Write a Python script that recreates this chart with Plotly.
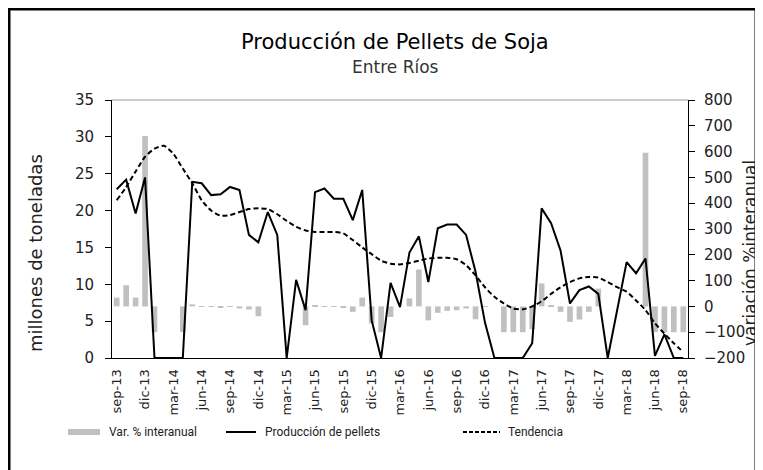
import plotly.graph_objects as go

meses = ["sep-13","oct-13","nov-13","dic-13","ene-14","feb-14","mar-14","abr-14","may-14","jun-14","jul-14","ago-14",
         "sep-14","oct-14","nov-14","dic-14","ene-15","feb-15","mar-15","abr-15","may-15","jun-15","jul-15","ago-15",
         "sep-15","oct-15","nov-15","dic-15","ene-16","feb-16","mar-16","abr-16","may-16","jun-16","jul-16","ago-16",
         "sep-16","oct-16","nov-16","dic-16","ene-17","feb-17","mar-17","abr-17","may-17","jun-17","jul-17","ago-17",
         "sep-17","oct-17","nov-17","dic-17","ene-18","feb-18","mar-18","abr-18","may-18","jun-18","jul-18","ago-18",
         "sep-18"]

produccion = [22.9, 24.2, 19.6, 24.5, 0, 0, 0, 0, 23.9, 23.7, 22.1, 22.2,
              23.2, 22.8, 16.7, 15.7, 19.8, 16.7, 0, 10.6, 6.5, 22.5, 23.0, 21.6,
              21.6, 18.7, 22.8, 5.1, 0, 10.2, 6.9, 14.3, 16.5, 10.3, 17.6, 18.1,
              18.1, 16.7, 11.7, 4.8, 0, 0, 0, 0, 2.0, 20.3, 18.3, 14.6,
              7.4, 9.2, 9.7, 8.7, 0, 6.5, 13.0, 11.5, 13.5, 0.3, 3.2, 0,
              0]

tendencia = [21.4, 23.2, 25.3, 27.3, 28.4, 28.8, 27.7, 25.7, 23.7, 21.4, 20.0, 19.3,
             19.4, 19.8, 20.2, 20.3, 20.2, 19.5, 18.6, 17.8, 17.3, 17.1, 17.1, 17.1,
             16.9, 16.0, 15.0, 14.1, 13.2, 12.8, 12.7, 12.9, 13.2, 13.5, 13.6, 13.6,
             13.4, 12.6, 11.2, 9.6, 8.3, 7.4, 6.7, 6.6, 7.0, 7.7, 8.7, 9.6,
             10.3, 10.8, 11.0, 10.9, 10.3, 9.6, 9.0, 7.8, 6.5, 4.7, 3.3, 2.0,
             0.8]

var_interanual = [34, 82, 34, 660, -100, None, None, -100, 8, -1, -2, -4,
                  1, -8, -12, -38, None, None, None, None, -73, 2, -1, -2,
                  -5, -21, 34, -66, -100, -41, None, 31, 143, -54, -25, -17,
                  -15, -8, -50, -2, None, -100, -100, -100, -88, 89, 3, -21,
                  -60, -51, -21, 69, None, None, None, None, 596, -100, -100, -100,
                  -100]

etiquetas = meses[::3]

FONT = "DejaVu Sans"
TITLE_FONT = "DejaVu Sans"
LEG_FONT = "Roboto"
GRAY = "#c0c0c0"

fig = go.Figure()

fig.add_trace(go.Bar(x=meses, y=var_interanual, xaxis="x", yaxis="y",
                     marker=dict(color=GRAY, line=dict(width=0)), showlegend=False))
fig.add_trace(go.Scatter(x=meses, y=produccion, xaxis="x", yaxis="y2", mode="lines",
                         line=dict(color="black", width=2), showlegend=False))
fig.add_trace(go.Scatter(x=meses, y=tendencia, xaxis="x", yaxis="y2", mode="lines",
                         line=dict(color="black", width=2, dash="5px,3px", shape="spline", smoothing=0.6),
                         showlegend=False))

tickfont = dict(family=FONT, size=15, color="#222")

# page has an 8px body margin: figure pixel = page pixel - 8
OFF = 8
W, H = 763 - OFF, 470 - OFF
PL, PR, PT, PB = 112, 688, 100, 358   # plot area in page pixels

fig.update_layout(
    width=W, height=H,
    margin=dict(l=PL - OFF, r=W - (PR - OFF), t=PT - OFF, b=H - (PB - OFF)),
    paper_bgcolor="white", plot_bgcolor="white",
    bargap=0.4,
    xaxis=dict(type="category", categoryorder="array", categoryarray=meses,
               range=[-0.5, len(meses) - 0.5],
               tickmode="array", tickvals=etiquetas, ticktext=etiquetas,
               tickangle=-90, ticks="outside", ticklen=5, tickcolor="rgba(0,0,0,0)",
               tickfont=dict(family=FONT, size=13, color="#222"),
               showline=True, linecolor="black", linewidth=1,
               showgrid=False, zeroline=False, fixedrange=True),
    xaxis2=dict(overlaying="x", anchor="y", side="bottom", type="linear",
                range=[-0.5, len(meses) - 0.5],
                tickmode="array", tickvals=[i - 0.5 for i in range(0, len(meses), 3)],
                ticks="outside", ticklen=6, tickcolor="black", showticklabels=False,
                showline=False, showgrid=False, zeroline=False),
    yaxis=dict(side="right", range=[-200, 800], dtick=100, tickmode="linear", tick0=-200,
               ticks="outside", ticklen=6, tickcolor="black",
               showline=True, linecolor="black", linewidth=1,
               showgrid=False, zeroline=False, tickfont=tickfont, ticklabelstandoff=6),
    yaxis2=dict(side="left", overlaying="y", anchor="x", range=[0, 35], dtick=5, tickmode="linear", tick0=0,
                ticks="outside", ticklen=6, tickcolor="black",
                showline=True, linecolor="black", linewidth=1,
                showgrid=False, zeroline=False, tickfont=tickfont, ticklabelstandoff=8),
)

def px_x(p):
    return (p - PL) / float(PR - PL)

def px_y(p):
    return (PB - p) / float(PB - PT)

shapes = []
shapes.append(dict(type="line", xref="paper", yref="paper", x0=0, x1=1, y0=1, y1=1,
                   line=dict(color="#999999", width=1)))
shapes.append(dict(type="rect", xref="paper", yref="paper",
                   x0=px_x(9), x1=px_x(756), y0=px_y(9), y1=px_y(490),
                   line=dict(color="black", width=3), fillcolor="rgba(0,0,0,0)"))
shapes.append(dict(type="rect", xref="paper", yref="paper",
                   x0=px_x(68), x1=px_x(100), y0=px_y(429), y1=px_y(435),
                   line=dict(width=0), fillcolor=GRAY))
shapes.append(dict(type="line", xref="paper", yref="paper",
                   x0=px_x(226), x1=px_x(256), y0=px_y(432), y1=px_y(432),
                   line=dict(color="black", width=2)))
shapes.append(dict(type="line", xref="paper", yref="paper",
                   x0=px_x(463), x1=px_x(500), y0=px_y(432), y1=px_y(432),
                   line=dict(color="black", width=2, dash="4px,2px")))

annotations = [
    dict(text="Producción de Pellets de Soja", x=px_x(395), y=px_y(42), xref="paper", yref="paper",
         showarrow=False, font=dict(family=TITLE_FONT, size=21, color="black"), xanchor="center", yanchor="middle"),
    dict(text="Entre Ríos", x=px_x(395), y=px_y(67), xref="paper", yref="paper",
         showarrow=False, font=dict(family=TITLE_FONT, size=17, color="#333"), xanchor="center", yanchor="middle"),
    dict(text="millones de toneladas", x=px_x(36), y=px_y(253), xref="paper", yref="paper", textangle=-90,
         showarrow=False, font=dict(family=FONT, size=18, color="#222"), xanchor="center", yanchor="middle"),
    dict(text="variación %interanual", x=px_x(750), y=px_y(253), xref="paper", yref="paper", textangle=-90,
         showarrow=False, font=dict(family=FONT, size=17, color="#222"), xanchor="center", yanchor="middle"),
    dict(text="Var. % interanual", x=px_x(107), y=px_y(432), xref="paper", yref="paper",
         showarrow=False, font=dict(family=LEG_FONT, size=12, color="#222"), xanchor="left", yanchor="middle"),
    dict(text="Producción de pellets", x=px_x(263), y=px_y(432), xref="paper", yref="paper",
         showarrow=False, font=dict(family=LEG_FONT, size=12, color="#222"), xanchor="left", yanchor="middle"),
    dict(text="Tendencia", x=px_x(506), y=px_y(432), xref="paper", yref="paper",
         showarrow=False, font=dict(family=LEG_FONT, size=12, color="#222"), xanchor="left", yanchor="middle"),
]

fig.update_layout(shapes=shapes, annotations=annotations)

fig.write_html("out.html")
